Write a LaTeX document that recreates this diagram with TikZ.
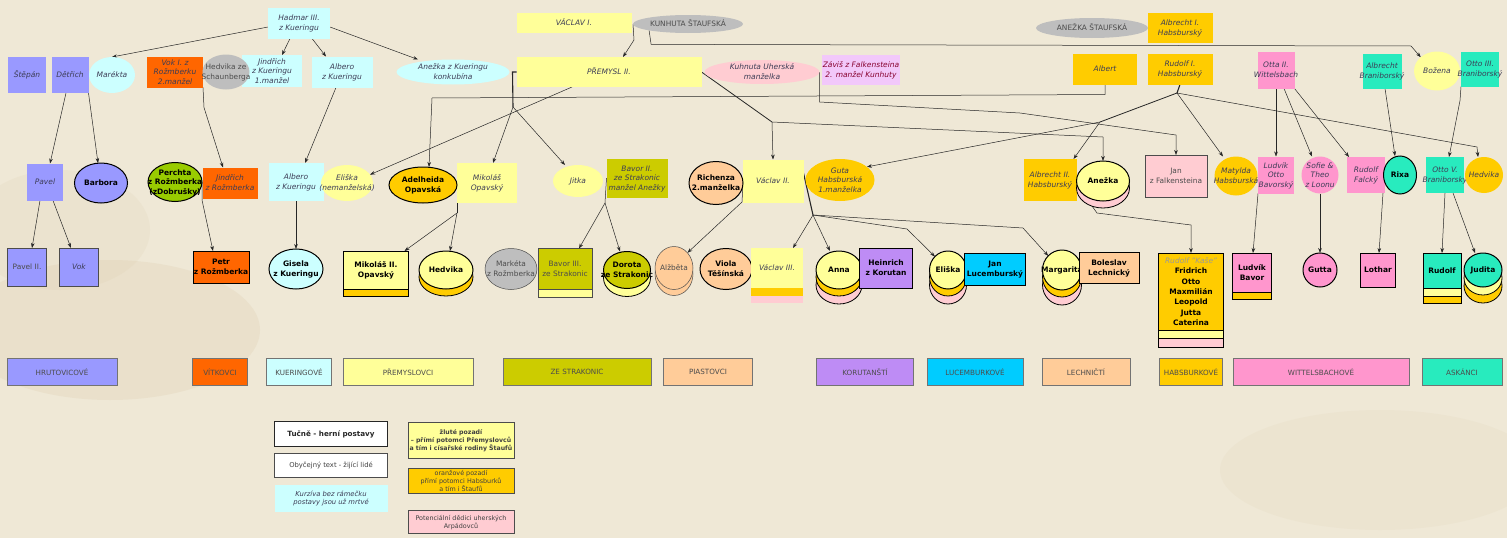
\documentclass[tikz,border=0pt]{standalone}
\usepackage{fontspec}
\setmainfont{DejaVu Sans}
\usetikzlibrary{shapes.geometric,arrows.meta,calc}
\pgfdeclarelayer{bg}
\pgfsetlayers{bg,main}
\definecolor{paper}{RGB}{239,232,214}
\definecolor{paperd}{RGB}{214,196,160}
\definecolor{lav}{RGB}{153,153,255}
\definecolor{cyl}{RGB}{204,255,255}
\definecolor{vit}{RGB}{255,102,0}
\definecolor{yel}{RGB}{255,255,153}
\definecolor{oli}{RGB}{204,204,0}
\definecolor{pea}{RGB}{255,204,153}
\definecolor{kor}{RGB}{190,140,245}
\definecolor{lux}{RGB}{0,204,255}
\definecolor{hab}{RGB}{255,204,0}
\definecolor{wit}{RGB}{255,150,205}
\definecolor{ask}{RGB}{40,235,190}
\definecolor{gry}{RGB}{190,190,190}
\definecolor{pnk}{RGB}{255,204,210}
\definecolor{vio}{RGB}{242,200,250}
\definecolor{grn}{RGB}{153,204,0}
\definecolor{ink}{RGB}{60,60,85}
\newcommand\ntx[1]{\smash{\raisebox{-2.6pt}{\makebox[0pt]{\begin{tabular}{@{}c@{}}#1\end{tabular}}}}}
\tikzset{
 nd/.style={inner sep=0pt, outer sep=0pt},
 sz/.style 2 args={minimum width=#1pt, minimum height=#2pt},
 bx/.style={nd, rectangle},
 el/.style={nd, ellipse},
 dead/.style={font=\fontsize{7.5}{9.7}\selectfont\itshape, text=ink},
 alive/.style={font=\fontsize{7.4}{9.7}\selectfont, text=black!70},
 game/.style={draw=black, line width=1pt, font=\fontsize{7.5}{9.7}\selectfont\bfseries, text=black},
 thin/.style={draw=black!70, line width=0.5pt},
 layA/.style 2 args={preaction={fill=#1, draw=black, line width=0.8pt, transform canvas={yshift=-#2pt}}},
 layT/.style 2 args={preaction={fill=#1, draw=black!70, line width=0.5pt, transform canvas={yshift=-#2pt}}},
 layN/.style 2 args={preaction={fill=#1, transform canvas={yshift=-#2pt}}},
 leg/.style={nd, rectangle, draw=black!55, line width=0.6pt, minimum height=27pt, font=\fontsize{7.2}{8}\selectfont, text=black!70},
 keybox/.style={nd, rectangle},
 con/.style={draw=black!85, line width=0.5pt, -{Stealth[length=5pt,width=3.6pt]}},
 ln/.style={draw=black!85, line width=0.5pt},
 thk/.style={draw=black!85, line width=1.1pt},
}
\begin{document}
\begin{tikzpicture}[x=1pt,y=-1pt]
\useasboundingbox (0,0) rectangle (1507,538);
\begin{pgfonlayer}{bg}
\path[fill=paper] (0,0) rectangle (1507,538);
\begin{scope}
\clip (0,0) rectangle (1507,538);
\fill[paperd,opacity=0.2] (110,330) ellipse (150 and 70);
\fill[paperd,opacity=0.13] (60,230) ellipse (90 and 60);
\fill[paperd,opacity=0.1] (1380,470) ellipse (160 and 60);
\end{scope}
\end{pgfonlayer}

% ---------- top row
\node[bx,sz={62}{31},fill=cyl,dead] (hadmar) at (299,23) {\ntx{Hadmar III.\\z Kueringu}};
\node[bx,sz={115}{20},fill=yel,dead] (vaclavI) at (574,23) {\ntx{VÁCLAV I.}};
\node[el,sz={110}{18},fill=gry,alive] (kunhutaS) at (688,24) {\ntx{KUNHUTA ŠTAUFSKÁ}};
\node[el,sz={112}{20},fill=gry,alive] (anezkaS) at (1092,28) {\ntx{ANEŽKA ŠTAUFSKÁ}};
\node[bx,sz={65}{30},fill=hab,dead] (albrechtI) at (1180,28) {\ntx{Albrecht I.\\Habsburský}};

% ---------- row 1
\node[bx,sz={38}{36},fill=lav,dead] (stepan) at (27,75) {\ntx{Štěpán}};
\node[bx,sz={37}{36},fill=lav,dead] (detrich) at (70,75) {\ntx{Dětřich}};
\node[el,sz={46}{36},fill=cyl,dead] (marekta) at (112,75) {\ntx{Marékta}};
\node[bx,sz={56}{31},fill=vit,dead] (vokI) at (175,72) {\ntx{Vok I. z\\Rožmberku\\2.manžel}};
\node[bx,sz={60}{32},fill=cyl,dead] (jindrichK) at (272,71) {\ntx{Jindřich\\z Kueringu\\1.manžel}};
\node[el,sz={47}{35},fill=gry,alive] (hedvikaS) at (226,72) {\ntx{Hedvika ze\\Schaunberga}};
\node[bx,sz={61}{31},fill=cyl,dead] (albero) at (342,72) {\ntx{Albero\\z Kueringu}};
\node[el,sz={113}{25},fill=cyl,dead] (anezkaK) at (453,72) {\ntx{Anežka z Kueringu\\konkubína}};
\node[bx,sz={185}{30},fill=yel,dead] (premysl) at (609,72) {\ntx{PŘEMYSL II.}};
\node[el,sz={115}{24},fill=pnk,dead] (kunhutaU) at (762,72) {\ntx{Kuhnuta Uherská\\manželka}};
\node[bx,sz={78}{30},fill=vio,dead,text=purple!70!black] (zavis) at (861,70) {\ntx{Záviš z Falkensteina\\2. manžel Kunhuty}};
\node[bx,sz={64}{31},fill=hab,dead] (albert) at (1105,69) {\ntx{Albert}};
\node[bx,sz={65}{31},fill=hab,dead] (rudolfI) at (1180,69) {\ntx{Rudolf I.\\Habsburský}};
\node[bx,sz={37}{37},fill=wit,dead] (otta) at (1276,70) {\ntx{Otta II.\\Wittelsbach}};
\node[bx,sz={39}{35},fill=ask,dead] (albrechtB) at (1382,71) {\ntx{Albrecht\\Braniborský}};
\node[el,sz={46}{39},fill=yel,dead] (bozena) at (1437,71) {\ntx{Božena}};
\node[bx,sz={38}{35},fill=ask,dead] (ottoIII) at (1480,69) {\ntx{Otto III.\\Braniborský}};

% ---------- row 2
\node[bx,sz={36}{37},fill=lav,dead] (pavel) at (45,182) {\ntx{Pavel}};
\node[el,sz={53}{40},fill=lav,game] (barbora) at (101,183) {\ntx{Barbora}};
\node[bx,sz={55}{31},fill=vit,dead] (jindrichR) at (230,183) {\ntx{Jindřich\\z Rožmberka}};
\node[el,sz={54}{39},fill=grn,game] (perchta) at (175,182) {\ntx{Perchta\\z Rožmberka\\(zDobrušky)}};
\node[bx,sz={55}{38},fill=cyl,dead] (albero2) at (296,182) {\ntx{Albero\\z Kueringu}};
\node[el,sz={52}{36},fill=yel,dead] (eliskaN) at (347,183) {\ntx{Eliška\\(nemanželská)}};
\node[bx,sz={60}{40},fill=yel,dead] (mikolas) at (487,183) {\ntx{Mikoláš\\Opavský}};
\node[el,sz={68}{36},fill=hab,game] (adelheida) at (423,185) {\ntx{Adelheida\\Opavská}};
\node[el,sz={50}{32},fill=yel,dead] (jitka) at (578,181) {\ntx{Jitka}};
\node[bx,sz={61}{39},fill=oli,dead] (bavorII) at (637,178) {\ntx{Bavor II.\\ze Strakonic\\manžel Anežky}};
\node[bx,sz={61}{43},fill=yel,dead] (vaclavII) at (773,181) {\ntx{Václav II.}};
\node[el,sz={54}{43},fill=pea,game] (richenza) at (716,183) {\ntx{Richenza\\2.manželka}};
\node[el,sz={69}{42},fill=hab,dead] (guta) at (840,180) {\ntx{Guta\\Habsburská\\1.manželka}};
\node[bx,sz={53}{42},fill=hab,dead] (albrechtII) at (1050,180) {\ntx{Albrecht II.\\Habsburský}};
\node[el,sz={53}{40},fill=yel,game,layA={pnk}{7}] (anezkaH) at (1103,181) {\ntx{Anežka}};
\node[bx,sz={62}{42},fill=pnk,thin,alive] (janF) at (1176,176) {\ntx{Jan\\z Falkensteina}};
\node[el,sz={43}{39},fill=hab,dead] (matylda) at (1236,176) {\ntx{Matylda\\Habsburská}};
\node[bx,sz={36}{37},fill=wit,dead] (ludvikO) at (1276,175) {\ntx{Ludvík\\Otto\\Bavorský}};
\node[el,sz={37}{37},fill=wit,dead] (sofie) at (1320,175) {\ntx{Sofie \&\\Theo\\z Loonu}};
\node[bx,sz={38}{36},fill=wit,dead] (rudolfF) at (1366,175) {\ntx{Rudolf\\Falcký}};
\node[el,sz={33}{38},fill=ask,game] (rixa) at (1400,175) {\ntx{Rixa}};
\node[bx,sz={38}{36},fill=ask,dead] (ottoV) at (1445,175) {\ntx{Otto V.\\Braniborský}};
\node[el,sz={38}{36},fill=hab,dead] (hedvikaB) at (1484,175) {\ntx{Hedvika}};

% ---------- row 3
\node[bx,sz={39}{38},fill=lav,thin,alive] (pavelII) at (27,267) {\ntx{Pavel II.}};
\node[bx,sz={39}{38},fill=lav,thin,dead] (vok) at (79,267) {\ntx{Vok}};
\node[bx,sz={56}{32},fill=vit,game] (petr) at (221,267) {\ntx{Petr\\z Rožmberka}};
\node[el,sz={54}{40},fill=cyl,game] (gisela) at (296,269) {\ntx{Gisela\\z Kueringu}};
\node[bx,sz={65}{38},fill=yel,game,layA={hab}{7}] (mikolasII) at (376,270) {\ntx{Mikoláš II.\\Opavský}};
\node[el,sz={54}{38},fill=yel,game,layA={hab}{7}] (hedvikaO) at (446,270) {\ntx{Hedvika}};
\node[el,sz={52}{41},fill=gry,thin,alive] (marketa) at (511,269) {\ntx{Markéta\\z Rožmberka}};
\node[bx,sz={54}{41},fill=oli,thin,alive,layT={yel}{8}] (bavorIII) at (565,269) {\ntx{Bavor III.\\ze Strakonic}};
\node[el,sz={47}{37},fill=oli,game,layA={yel}{8}] (dorota) at (627,270) {\ntx{Dorota\\ze Strakonic}};
\node[el,sz={38}{43},fill=pea,thin,alive,layT={pea}{6}] (alzbeta) at (674,268) {\ntx{Alžběta}};
\node[el,sz={52}{41},fill=pea,game] (viola) at (726,269) {\ntx{Viola\\Těšínská}};
\node[bx,sz={52}{40},fill=yel,dead,layN={pnk}{15},layN={hab}{8}] (vaclavIII) at (777,268) {\ntx{Václav III.}};
\node[el,sz={46}{38},fill=yel,game,layA={pnk}{15},layA={hab}{7}] (anna) at (839,270) {\ntx{Anna}};
\node[bx,sz={53}{40},fill=kor,game] (heinrich) at (886,268) {\ntx{Heinrich\\z Korutan}};
\node[el,sz={37}{38},fill=yel,game,layA={pnk}{15},layA={hab}{7}] (eliska) at (948,270) {\ntx{Eliška}};
\node[bx,sz={61}{32},fill=lux,game] (jan) at (995,269) {\ntx{Jan\\Lucemburský}};
\node[el,sz={39}{40},fill=yel,game,layA={pnk}{15},layA={hab}{7}] (margarita) at (1062,270) {\ntx{Margarita}};
\node[bx,sz={60}{31},fill=pea,game] (boleslav) at (1109,268) {\ntx{Boleslav\\Lechnický}};
\node[bx,sz={65}{77},fill=hab,game,layA={pnk}{17},layA={yel}{8},font=\fontsize{7.5}{10.3}\selectfont\bfseries] (habs) at (1191,291.5)
  {\ntx{\textcolor{black!40}{\mdseries\itshape Rudolf "Kaše"}\\Fridrich\\Otto\\Maxmilián\\Leopold\\Jutta\\Caterina}};
\node[bx,sz={39}{39},fill=wit,game,layA={hab}{7}] (ludvikB) at (1252,272.5) {\ntx{Ludvík\\Bavor}};
\node[el,sz={34}{34},fill=wit,game] (gutta) at (1320,270) {\ntx{Gutta}};
\node[bx,sz={35}{34},fill=wit,game] (lothar) at (1378,270) {\ntx{Lothar}};
\node[bx,sz={38}{35},fill=ask,game,layA={hab}{15},layA={yel}{8}] (rudolfA) at (1442,270.5) {\ntx{Rudolf}};
\node[el,sz={38}{34},fill=ask,game,layA={hab}{16},layA={yel}{8}] (judita) at (1483,270) {\ntx{Judita}};

% ---------- family legend
\node[leg,minimum width=110pt,fill=lav] (lg1) at (62,372) {HRUTOVICOVÉ};
\node[leg,minimum width=55pt,fill=vit] (lg2) at (220,372) {VÍTKOVCI};
\node[leg,minimum width=65pt,fill=cyl] (lg3) at (299,372) {KUERINGOVÉ};
\node[leg,minimum width=130pt,fill=yel] (lg4) at (408,372) {PŘEMYSLOVCI};
\node[leg,minimum width=148pt,fill=oli] (lg5) at (577,372) {ZE STRAKONIC};
\node[leg,minimum width=89pt,fill=pea] (lg6) at (708,372) {PIASTOVCI};
\node[leg,minimum width=97pt,fill=kor] (lg7) at (865,372) {KORUTANŠTÍ};
\node[leg,minimum width=96pt,fill=lux] (lg8) at (975,372) {LUCEMBURKOVÉ};
\node[leg,minimum width=88pt,fill=pea] (lg9) at (1086,372) {LECHNIČTÍ};
\node[leg,minimum width=63pt,fill=hab] (lg10) at (1191,372) {HABSBURKOVÉ};
\node[leg,minimum width=176pt,fill=wit] (lg11) at (1321,372) {WITTELSBACHOVÉ};
\node[leg,minimum width=80pt,fill=ask] (lg12) at (1462,372) {ASKÁNCI};

% ---------- key
\node[keybox,sz={113}{25},fill=white,draw=black!85,line width=1.2pt,font=\fontsize{7.2}{9}\selectfont\bfseries,text=black!85] (k1) at (331,434) {\ntx{Tučně - herní postavy}};
\node[keybox,sz={113}{24},fill=white,thin,font=\fontsize{6.8}{9}\selectfont,text=black!75] (k2) at (331,465) {\ntx{Obyčejný text - žijící lidé}};
\node[keybox,sz={113}{27},fill=cyl,font=\fontsize{6.8}{8.7}\selectfont\itshape,text=ink] (k3) at (331,498) {\ntx{Kurzíva bez rámečku\\postavy jsou už mrtvé}};
\node[keybox,sz={106}{36},fill=yel,thin,font=\fontsize{6.2}{8.2}\selectfont\bfseries,text=black!75] (k4) at (461,440) {\ntx{žluté pozadí\\– přímí potomci Přemyslovců\\a tím i císařské rodiny Štaufů}};
\node[keybox,sz={106}{25},fill=hab,thin,font=\fontsize{6.4}{7.8}\selectfont,text=black!75] (k5) at (461,481) {\ntx{oranžové pozadí\\přímí potomci Habsburků\\a tím i Štaufů}};
\node[keybox,sz={106}{23},fill=pnk,thin,font=\fontsize{6.4}{8.2}\selectfont,text=black!75] (k6) at (461,522) {\ntx{Potenciální dědici uherských\\Arpádovců}};

% ---------- connectors
\begin{pgfonlayer}{bg}
\draw[con] ([yshift=-4pt]hadmar.west) -- (marekta.north);
\draw[con] ([xshift=-9pt]hadmar.south) -- ([xshift=10pt]jindrichK.north);
\draw[con] ([xshift=13pt]hadmar.south) -- ([xshift=-16pt]albero.north);
\draw[con] ([yshift=-4pt]hadmar.east) -- ([xshift=-35pt]anezkaK.north);
\draw[con] ([xshift=-4pt]detrich.south) -- ([xshift=5pt]pavel.north);
\draw[con] (detrich.south east) -- ([xshift=-3pt]barbora.north);
\draw[con] ([xshift=-5pt]pavel.south) -- ([xshift=5pt]pavelII.north);
\draw[con] ([xshift=8pt]pavel.south) -- ([xshift=-8pt]vok.north);
\draw[con] (vokI.south east) -- ++(1,20) -- ([xshift=-7pt]jindrichR.north);
\draw[con] (perchta.east) -- ++(0,18) -- ([xshift=-8pt]petr.north);
\draw[con] ([xshift=-6pt]albero.south) -- ([xshift=9pt]albero2.north);
\draw[con] (albero2.south) -- (gisela.north);
\draw[con] (kunhutaS.west) -- ++(1,16) -- ([xshift=14pt]premysl.north);
\draw[con] (kunhutaS.south west) -- ++(2,14) -- (1411,46) -- (bozena.north west);
\draw[con] ([xshift=-37pt]premysl.south) -- (eliskaN.20);
\draw[con] (albert.south) -- ++(0,10) -- (432,98) -- ([xshift=6pt]adelheida.north);
\coordinate (pj) at (513,107);
\draw[thk] (premysl.west) -- ++(-4,0) -- (pj);
\draw[con] (pj) -- ([xshift=6pt]mikolas.north);
\draw[con] (pj) -- ([xshift=-13pt]jitka.north);
\coordinate (pv) at (772,122);
\draw[ln,line width=0.8pt] (premysl.east) -- (pv);
\draw[con] (pv) -- (vaclavII.north);
\draw[con] (pv) -- (1103,137) -- (anezkaH.north);
\draw[con] (kunhutaU.east) -- ++(0,30) -- (1020,113) -- (1176,135) -- (janF.north);
\coordinate (rj) at (1177,93);
\coordinate (rk) at (1100,122);
\draw[thk] (rudolfI.south) -- (rj);
\draw[ln,line width=0.8pt] (rj) -- (rk);
\draw[con] (rk) -- (guta.26);
\draw[con] (rk) -- ([xshift=-3pt]albrechtII.north east);
\draw[con] (rj) -- ([xshift=-13pt]matylda.north);
\draw[con] (rj) -- (1477,147) -- ([xshift=-6pt]hedvikaB.north);
\draw[con] (otta.south) -- (ludvikO.north);
\draw[con] ([xshift=8pt]otta.south) -- ([xshift=-8pt]sofie.north);
\draw[con] (otta.south east) -- ([xshift=-17pt]rudolfF.north);
\draw[con] ([xshift=3pt]albrechtB.south) -- ([xshift=-5pt]rixa.north);
\draw[con] (ottoIII.south west) -- ++(-1,14) -- ([xshift=4pt]ottoV.north);
\coordinate (aj) at (457,213);
\draw[ln] (adelheida.east) -- (aj);
\draw[con] (aj) -- ([xshift=-4pt]mikolasII.north east);
\draw[con] (aj) -- ([xshift=4pt]hedvikaO.north);
\coordinate (bj) at (605,203);
\draw[ln] (bavorII.west) -- (bj);
\draw[con] (bj) -- ([xshift=14pt]bavorIII.north);
\draw[con] (bj) -- ([xshift=-7pt]dorota.north);
\draw[con] (richenza.east) -- ++(-1,19) -- (alzbeta.north east);
\coordinate (vj) at (813,215);
\draw[thk] ([yshift=8pt]vaclavII.east) -- (vj);
\draw[con] (vj) -- ([xshift=16pt]vaclavIII.north);
\draw[con] (vj) -- ([xshift=-9pt]anna.north);
\draw[con] (vj) -- (907,229) -- (eliska.north west);
\draw[con] (vj) -- (1023,228) -- (margarita.north west);
\draw[con] (anezkaH.south west) -- (1097,213) -- (1191,225) -- (habs.north);
\draw[con] (ludvikO.south west) -- ([xshift=1pt]ludvikB.north);
\draw[con] (sofie.south) -- (gutta.north);
\draw[con] ([xshift=17pt]rudolfF.south) -- ([xshift=1pt]lothar.north);
\draw[con] (ottoV.south) -- (rudolfA.north);
\draw[con] ([xshift=8pt]ottoV.south) -- ([xshift=-8pt]judita.north);
\end{pgfonlayer}
\end{tikzpicture}
\end{document}
